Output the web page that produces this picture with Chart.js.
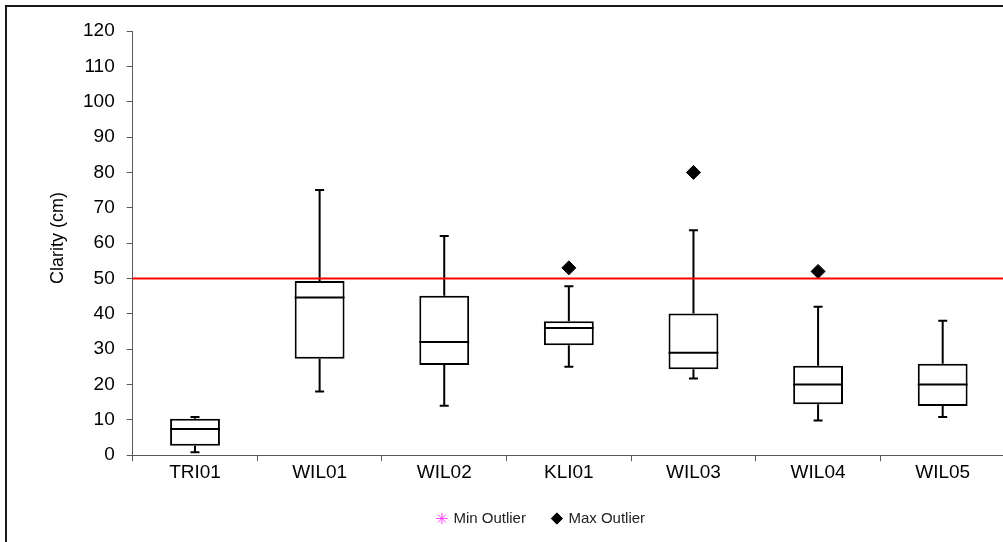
<!DOCTYPE html>
<html>
<head>
<meta charset="utf-8">
<title>Clarity box plot</title>
<script src="https://cdn.jsdelivr.net/npm/chart.js@4/dist/chart.umd.min.js"></script>
<style>
  html, body { margin: 0; padding: 0; background: #fff; overflow: hidden; }
  #wrap { position: absolute; left: 0; top: 0; width: 1013px; height: 536px; }
  #frame { position: absolute; left: 5px; top: 5px; width: 1100px; height: 600px;
           border: 2px solid #1a1a1a; pointer-events: none; }
</style>
</head>
<body>
<div id="wrap"><canvas id="myChart"></canvas></div>
<div id="frame"></div>
<script>
// sites and five-number summaries (cm)
const sites = ['TRI01', 'WIL01', 'WIL02', 'KLI01', 'WIL03', 'WIL04', 'WIL05'];
const mins = [0.8, 18, 14, 25, 21.7, 9.8, 10.8];
const q1s = [2.7, 27.3, 25.5, 31.1, 24.3, 14.4, 13.9];
const medians = [7.4, 44.6, 32, 36, 29, 20, 20];
const q3s = [10.3, 49.3, 45.1, 37.9, 40.1, 25.3, 25.9];
const maxs = [10.8, 75, 62, 47.8, 63.6, 42, 38];
const minOutliers = [null, null, null, null, null, null, null];
const maxOutliers = [null, null, null, 53, 80, 52, null];
const targetValue = 50;
const yTicks = [0, 10, 20, 30, 40, 50, 60, 70, 80, 90, 100, 110, 120];

const FONT = "'Liberation Sans', Arial, sans-serif";

// whiskers + median lines on top of the box bars
const boxWhiskers = {
  id: 'boxWhiskers',
  afterDatasetDraw(chart, args) {
    if (args.index !== 0) return;
    const ctx = chart.ctx;
    const y = chart.scales.y;
    const bars = chart.getDatasetMeta(0).data;
    ctx.save();
    ctx.strokeStyle = '#000';
    ctx.lineWidth = 2;
    bars.forEach(function (bar, i) {
      const x = bar.x;
      const half = bar.width / 2;
      const cap = 4.5;
      ctx.beginPath();
      // median
      ctx.moveTo(x - half, y.getPixelForValue(medians[i]));
      ctx.lineTo(x + half, y.getPixelForValue(medians[i]));
      // upper whisker
      ctx.moveTo(x, y.getPixelForValue(q3s[i]));
      ctx.lineTo(x, y.getPixelForValue(maxs[i]));
      ctx.moveTo(x - cap, y.getPixelForValue(maxs[i]));
      ctx.lineTo(x + cap, y.getPixelForValue(maxs[i]));
      // lower whisker
      ctx.moveTo(x, y.getPixelForValue(q1s[i]));
      ctx.lineTo(x, y.getPixelForValue(mins[i]));
      ctx.moveTo(x - cap, y.getPixelForValue(mins[i]));
      ctx.lineTo(x + cap, y.getPixelForValue(mins[i]));
      ctx.stroke();
    });
    ctx.restore();
  }
};

// red reference line at 50 cm
const targetLine = {
  id: 'targetLine',
  afterDatasetsDraw(chart) {
    const ctx = chart.ctx;
    const a = chart.chartArea;
    const py = chart.scales.y.getPixelForValue(targetValue);
    ctx.save();
    ctx.strokeStyle = '#ff0000';
    ctx.lineWidth = 2;
    ctx.beginPath();
    ctx.moveTo(a.left, py);
    ctx.lineTo(a.right, py);
    ctx.stroke();
    ctx.restore();
  }
};

// y axis title sits left of the axis, outside the layout box
const yTitle = {
  id: 'yTitle',
  afterDraw(chart) {
    const ctx = chart.ctx;
    const a = chart.chartArea;
    ctx.save();
    ctx.translate(58, (a.top + a.bottom) / 2 - 5);
    ctx.rotate(-Math.PI / 2);
    ctx.font = '18px ' + FONT;
    ctx.fillStyle = '#000';
    ctx.textAlign = 'center';
    ctx.textBaseline = 'middle';
    ctx.fillText('Clarity (cm)', 0, 0);
    ctx.restore();
  }
};

const ctx = document.getElementById('myChart').getContext('2d');
const myChart = new Chart(ctx, {
  type: 'bar',
  data: {
    labels: sites,
    datasets: [{
      label: 'Box',
      data: q1s.map(function (v, i) { return [v, q3s[i]]; }),
      backgroundColor: '#fff',
      borderColor: '#000',
      borderWidth: 2,
      borderSkipped: false,
      barPercentage: 0.4,
      categoryPercentage: 1
    }, {
      type: 'line',
      label: 'Min Outlier',
      data: minOutliers,
      showLine: false,
      pointStyle: 'star',
      pointRadius: 5,
      borderColor: '#ff44ff',
      backgroundColor: '#ff44ff'
    }, {
      type: 'line',
      label: 'Max Outlier',
      data: maxOutliers,
      showLine: false,
      pointStyle: 'rectRot',
      pointRadius: 7,
      pointHoverRadius: 7,
      borderColor: '#000',
      backgroundColor: '#000'
    }]
  },
  options: {
    responsive: true,
    maintainAspectRatio: false,
    animation: false,
    layout: { padding: { left: 71, right: 1, top: 31, bottom: 0 } },
    scales: {
      x: {
        grid: { drawOnChartArea: false, tickLength: 6, color: '#595959', offset: true },
        border: { color: '#595959', width: 1 },
        ticks: { color: '#000', padding: 0, font: { family: FONT, size: 19, lineHeight: 1.2 } }
      },
      y: {
        min: 0,
        max: 120,
        afterBuildTicks: function (scale) {
          scale.ticks = yTicks.map(function (v) { return { value: v }; });
        },
        grid: { drawOnChartArea: false, tickLength: 6, color: '#595959' },
        border: { color: '#595959', width: 1 },
        ticks: { color: '#000', padding: 12, font: { family: FONT, size: 19 } }
      }
    },
    plugins: {
      tooltip: { enabled: false },
      legend: {
        position: 'bottom',
        labels: {
          usePointStyle: true,
          boxWidth: 8,
          boxHeight: 8,
          padding: 27,
          color: '#222',
          font: { family: FONT, size: 15 },
          filter: function (item) { return item.text !== 'Box'; }
        }
      }
    }
  },
  plugins: [boxWhiskers, targetLine, yTitle]
});
</script>
</body>
</html>
